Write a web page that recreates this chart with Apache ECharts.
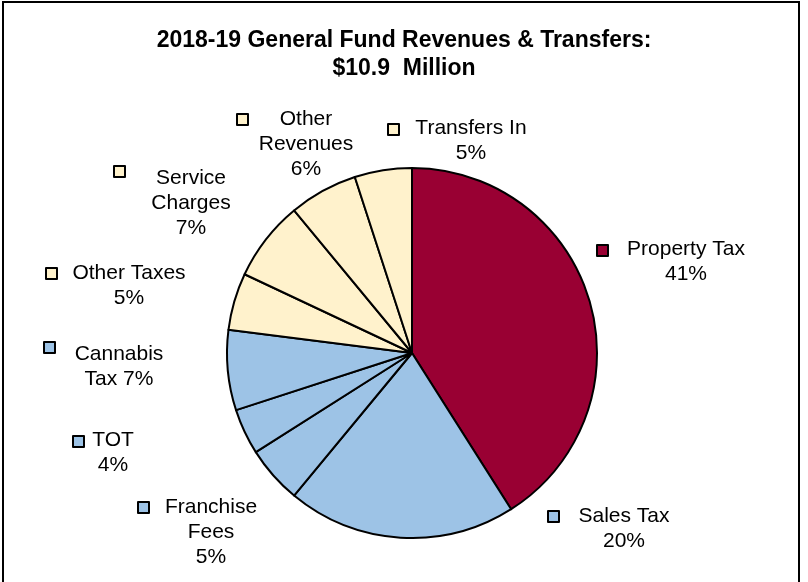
<!DOCTYPE html>
<html>
<head>
<meta charset="utf-8">
<script src="https://cdn.jsdelivr.net/npm/echarts@6/dist/echarts.min.js"></script>
<style>
  html, body { margin: 0; padding: 0; background: #fff; }
  #wrap { position: relative; width: 808px; height: 582px; overflow: hidden; }
  #chart { position: absolute; left: 0; top: 0; width: 808px; height: 582px; }
  #frame { position: absolute; left: 2px; top: 1px; width: 794px; height: 700px;
           border: 2px solid #000; pointer-events: none; }
</style>
</head>
<body>
<div id="wrap"><div id="chart"></div><div id="frame"></div></div>
<script>
// ---- data ----
const categories = ['Property Tax', 'Sales Tax', 'Franchise Fees', 'TOT', 'Cannabis Tax',
                    'Other Taxes', 'Service Charges', 'Other Revenues', 'Transfers In'];
const values = [41, 20, 5, 4, 7, 5, 7, 6, 5];
const labelNames = ['Property Tax', 'Sales Tax', 'Franchise\nFees', 'TOT', 'Cannabis\nTax',
                    'Other Taxes', 'Service\nCharges', 'Other\nRevenues', 'Transfers In'];
const pctSep = ['\n', '\n', '\n', '\n', ' ', '\n', '\n', '\n', '\n'];
const colors = ['#990033', '#9DC3E6', '#9DC3E6', '#9DC3E6', '#9DC3E6',
                '#FFF2CC', '#FFF2CC', '#FFF2CC', '#FFF2CC'];

// ---- layout (label text anchors: centre x, top y; legend key top-left) ----
const labelAnchor = [[686, 237], [624, 504], [211, 495], [113, 428], [119, 342],
                     [129, 261], [191, 166], [306, 107], [471, 116]];
const keyPos = [[596, 244], [547, 510], [137, 501], [72, 435], [43, 341],
                [45, 267], [113, 165], [236, 113], [387, 123]];

const chart = echarts.init(document.getElementById('chart'), null, { renderer: 'canvas' });

const legends = categories.map((c, i) => ({
  data: [c],
  left: keyPos[i][0],
  top: keyPos[i][1],
  padding: 0,
  icon: 'rect',
  itemWidth: 11,
  itemHeight: 11,
  selectedMode: false,
  formatter: () => '',
  itemStyle: { borderColor: '#000', borderWidth: 2 }
}));

chart.setOption({
  animation: false,
  backgroundColor: '#fff',
  title: {
    text: '2018-19 General Fund Revenues & Transfers:\n$10.9  Million',
    left: 'center',
    top: 27,
    padding: 0,
    textStyle: {
      fontFamily: 'Liberation Sans, Arial, sans-serif',
      fontSize: 23,
      fontWeight: 'bold',
      color: '#000',
      lineHeight: 28
    }
  },
  legend: legends,
  series: [{
    type: 'pie',
    center: [412, 353],
    radius: 185,
    startAngle: 90,
    clockwise: true,
    avoidLabelOverlap: false,
    data: categories.map((c, i) => ({
      name: c,
      value: values[i],
      itemStyle: { color: colors[i] }
    })),
    itemStyle: { borderColor: '#000', borderWidth: 2 },
    label: {
      show: true,
      position: 'outside',
      fontFamily: 'Liberation Sans, Arial, sans-serif',
      fontSize: 21,
      lineHeight: 25,
      color: '#000',
      align: 'center',
      formatter: (p) => labelNames[p.dataIndex] + pctSep[p.dataIndex] + values[p.dataIndex] + '%'
    },
    labelLine: { show: false },
    labelLayout: (p) => ({
      x: labelAnchor[p.dataIndex][0],
      y: labelAnchor[p.dataIndex][1],
      align: 'center',
      verticalAlign: 'top'
    }),
    emphasis: { disabled: true }
  }]
});
</script>
</body>
</html>
